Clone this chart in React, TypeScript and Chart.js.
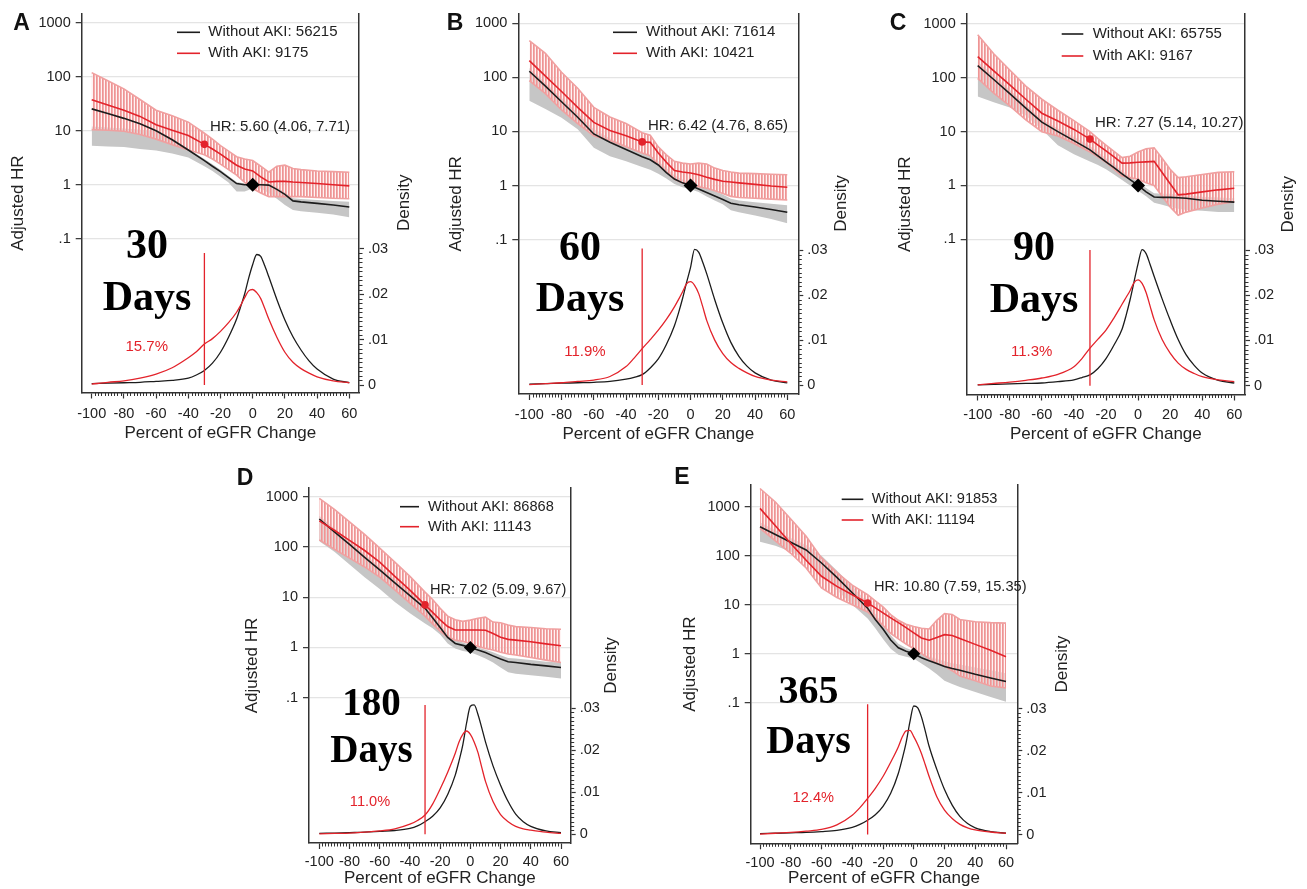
import React, { useEffect, useRef } from 'react';
import { Chart, registerables } from 'chart.js';

Chart.register(...registerables);

const SANS = '"Liberation Sans", Arial, Helvetica, sans-serif';
const SERIF = '"Liberation Serif", "Times New Roman", serif';

// ---------------- data ----------------
const X_HR = [-100, -90, -80, -70, -60, -50, -40, -30, -25, -20, -15, -10, -5, 0, 5, 10, 15, 20, 25, 30, 40, 50, 60];
const X_DEN = [-100, -90, -80, -70, -60, -50, -40, -35, -30, -25, -20, -15, -10, -7.5, -5, -2.5, 0, 2.5, 5, 7.5, 10, 15, 20, 25, 30, 35, 40, 50, 60];
const X_TICKS = [-100, -80, -60, -40, -20, 0, 20, 40, 60];
const HR_TICKS = [0.1, 1, 10, 100, 1000];
const DEN_TICKS = [0, 0.01, 0.02, 0.03];

const LETTERS = ['A', 'B', 'C', 'D', 'E'];
const DAYS = ['30', '60', '90', '180', '365'];
const N_NO = ['Without AKI: 56215', 'Without AKI: 71614', 'Without AKI: 65755', 'Without AKI: 86868', 'Without AKI: 91853'];
const N_AKI = ['With AKI: 9175', 'With AKI: 10421', 'With AKI: 9167', 'With AKI: 11143', 'With AKI: 11194'];
const HR_LABEL = ['HR: 5.60 (4.06, 7.71)', 'HR: 6.42 (4.76, 8.65)', 'HR: 7.27 (5.14, 10.27)', 'HR: 7.02 (5.09, 9.67)', 'HR: 10.80 (7.59, 15.35)'];
const HR_AT_REF = [5.6, 6.42, 7.27, 7.02, 10.8];
const REF_X = -30;
const PCT = ['15.7%', '11.9%', '11.3%', '11.0%', '12.4%'];
const VLINE_TOP = [0.029, 0.0304, 0.03, 0.0308, 0.031];

// Panel A (30 days)
const A_NO = [25.5, 21, 17, 13.5, 10, 6.8, 4.4, 2.8, 2.2, 1.75, 1.35, 1.05, 1.0, 1.0, 1.0, 0.98, 0.82, 0.66, 0.5, 0.48, 0.45, 0.42, 0.385];
const A_NO_LO = [5.3, 5.1, 5.0, 4.6, 4.3, 3.8, 3.2, 2.2, 1.8, 1.4, 1.1, 0.75, 0.75, 0.85, 0.85, 0.7, 0.55, 0.42, 0.34, 0.32, 0.3, 0.28, 0.25];
const A_NO_HI = [12, 11.5, 11, 10.5, 10, 7, 4.6, 3.0, 2.4, 1.9, 1.45, 1.12, 1.05, 1.05, 1.05, 1.05, 0.9, 0.72, 0.56, 0.54, 0.52, 0.5, 0.48];
const A_AKI = [37.5, 30, 24, 18.5, 13, 10.2, 8.2, 5.6, 4.6, 3.7, 2.9, 2.3, 1.95, 1.8, 1.4, 1.12, 1.15, 1.15, 1.12, 1.1, 1.05, 1.0, 0.95];
const A_AKI_LO = [10.5, 10.2, 9.8, 8.5, 7.0, 5.5, 4.4, 3.6, 3.0, 2.4, 1.9, 1.5, 1.1, 0.85, 0.7, 0.6, 0.6, 0.6, 0.6, 0.6, 0.58, 0.56, 0.55];
const A_AKI_HI = [120, 85, 60, 38, 24, 19, 14.5, 9, 7, 5.3, 4.2, 3.3, 3.0, 2.8, 2.2, 1.7, 2.2, 2.3, 2.0, 1.9, 1.8, 1.75, 1.7];
const A_DEN_NO = [0.0003, 0.0004, 0.0005, 0.0006, 0.0008, 0.001, 0.0015, 0.0022, 0.0032, 0.0048, 0.0072, 0.0105, 0.0145, 0.0172, 0.02, 0.0235, 0.0265, 0.0287, 0.0283, 0.0262, 0.0238, 0.0188, 0.0143, 0.0106, 0.0077, 0.0053, 0.0035, 0.0013, 0.0005];
const A_DEN_AKI = [0.0002, 0.0006, 0.0009, 0.0015, 0.0024, 0.0038, 0.006, 0.0073, 0.009, 0.0102, 0.0118, 0.0137, 0.016, 0.0175, 0.0192, 0.0207, 0.021, 0.0203, 0.019, 0.0168, 0.0145, 0.0105, 0.0072, 0.005, 0.0036, 0.0026, 0.0018, 0.0009, 0.0005];

// Panel B (60 days)
const B_NO = [130, 69, 35.5, 18.3, 9.0, 6.3, 4.65, 3.4, 3.0, 2.4, 1.74, 1.32, 1.12, 1.0, 0.86, 0.74, 0.64, 0.55, 0.47, 0.44, 0.4, 0.36, 0.32];
const B_NO_LO = [37, 26, 18, 11, 5.0, 3.5, 2.8, 2.2, 1.95, 1.66, 1.35, 1.07, 0.93, 0.85, 0.76, 0.63, 0.53, 0.45, 0.35, 0.32, 0.28, 0.24, 0.2];
const B_NO_HI = [150, 80, 42, 22, 11, 7.5, 5.5, 4.0, 3.5, 2.8, 2.1, 1.55, 1.3, 1.15, 1.0, 0.88, 0.78, 0.68, 0.57, 0.53, 0.49, 0.46, 0.43];
const B_AKI = [204, 106, 55, 28, 14.7, 10.4, 8.3, 6.42, 6.3, 4.0, 2.7, 1.9, 1.78, 1.7, 1.58, 1.42, 1.3, 1.2, 1.16, 1.12, 1.05, 0.98, 0.93];
const B_AKI_LO = [87, 50, 25, 14, 8.3, 6.8, 5.2, 4.0, 3.55, 2.4, 1.78, 1.32, 1.12, 1.05, 0.95, 0.89, 0.8, 0.71, 0.63, 0.6, 0.58, 0.56, 0.54];
const B_AKI_HI = [480, 280, 125, 63, 28, 18.6, 14, 9.5, 8.5, 5.2, 3.7, 2.8, 2.6, 2.5, 2.6, 2.5, 2.1, 1.9, 1.78, 1.7, 1.66, 1.62, 1.58];
const B_DEN_NO = [0.0002, 0.0003, 0.0004, 0.0005, 0.0006, 0.0008, 0.0013, 0.0017, 0.0023, 0.0038, 0.0058, 0.009, 0.0132, 0.016, 0.0192, 0.0228, 0.0262, 0.0302, 0.0296, 0.0274, 0.0248, 0.019, 0.0138, 0.0095, 0.0064, 0.0042, 0.0027, 0.0011, 0.0005];
const B_DEN_AKI = [0.0001, 0.0003, 0.0005, 0.0008, 0.0011, 0.0019, 0.0041, 0.006, 0.0081, 0.0101, 0.0122, 0.0146, 0.0174, 0.019, 0.0207, 0.0225, 0.023, 0.0222, 0.0204, 0.0175, 0.0144, 0.01, 0.007, 0.005, 0.0037, 0.0027, 0.0019, 0.0011, 0.0007];

// Panel C (90 days)
const C_NO = [169, 93, 51, 27.3, 15, 10, 6.8, 4.6, 3.55, 2.75, 2.15, 1.65, 1.28, 1.0, 0.76, 0.61, 0.6, 0.6, 0.59, 0.58, 0.53, 0.51, 0.49];
const C_NO_LO = [45, 35, 28, 20, 11, 5.6, 3.8, 2.8, 2.4, 2.0, 1.6, 1.26, 1.0, 0.8, 0.63, 0.48, 0.44, 0.4, 0.37, 0.35, 0.34, 0.32, 0.32];
const C_NO_HI = [200, 110, 60, 32, 17, 11.5, 8, 5.4, 4.2, 3.2, 2.5, 1.9, 1.45, 1.15, 0.9, 0.72, 0.7, 0.7, 0.68, 0.66, 0.62, 0.6, 0.58];
const C_AKI = [248, 135, 74, 40, 22, 15.8, 11, 7.27, 5.6, 4.4, 3.4, 2.6, 2.63, 2.7, 2.75, 2.8, 1.74, 1.08, 0.67, 0.69, 0.76, 0.83, 0.89];
const C_AKI_LO = [98, 52, 30, 16.5, 10, 8.3, 6.0, 4.2, 3.4, 2.7, 2.0, 1.5, 1.4, 1.3, 1.12, 1.0, 0.63, 0.4, 0.28, 0.32, 0.38, 0.45, 0.5];
const C_AKI_HI = [630, 280, 140, 70, 40, 25, 16, 10, 7.4, 5.6, 4.3, 3.3, 3.5, 4.2, 4.8, 5.0, 3.2, 2.0, 1.4, 1.45, 1.6, 1.75, 1.8];
const C_DEN_NO = [0.0002, 0.0003, 0.0004, 0.0005, 0.0006, 0.0009, 0.0013, 0.0018, 0.0024, 0.0038, 0.006, 0.009, 0.0125, 0.0155, 0.019, 0.023, 0.027, 0.0301, 0.0292, 0.0268, 0.0242, 0.0192, 0.0145, 0.0102, 0.0068, 0.0045, 0.0028, 0.0012, 0.0006];
const C_DEN_AKI = [0.0002, 0.0005, 0.0008, 0.0012, 0.0017, 0.0025, 0.0042, 0.006, 0.0083, 0.0103, 0.0123, 0.015, 0.018, 0.0195, 0.021, 0.0228, 0.0234, 0.0226, 0.0206, 0.0176, 0.0146, 0.0102, 0.0072, 0.005, 0.0036, 0.0027, 0.002, 0.0013, 0.0009];

// Panel D (180 days)
const D_NO = [360, 200, 112, 62, 35, 19.3, 10.8, 6.0, 3.9, 2.5, 1.58, 1.2, 1.1, 1.0, 0.89, 0.79, 0.68, 0.59, 0.52, 0.5, 0.46, 0.43, 0.4];
const D_NO_LO = [130, 80, 45, 25, 14.5, 8, 4.8, 3.0, 2.4, 1.8, 1.2, 0.95, 0.85, 0.8, 0.7, 0.6, 0.5, 0.4, 0.32, 0.3, 0.28, 0.26, 0.24];
const D_NO_HI = [420, 235, 130, 72, 41, 23, 13, 7, 4.6, 3.0, 1.9, 1.4, 1.25, 1.12, 1.0, 0.9, 0.8, 0.7, 0.62, 0.6, 0.56, 0.52, 0.5];
const D_AKI = [330, 215, 135, 85, 50, 26, 13.8, 7.02, 5.0, 3.55, 2.6, 2.22, 2.22, 2.22, 2.22, 2.2, 1.9, 1.6, 1.45, 1.4, 1.3, 1.18, 1.08];
const D_AKI_LO = [138, 90, 60, 40, 25, 14, 7.6, 4.2, 2.95, 2.1, 1.6, 1.4, 1.32, 1.2, 1.05, 0.95, 0.89, 0.8, 0.74, 0.71, 0.63, 0.56, 0.5];
const D_AKI_HI = [925, 560, 316, 178, 95, 50, 26, 12.6, 9, 6, 4.2, 3.55, 3.3, 3.5, 3.8, 4.0, 3.2, 3.1, 2.8, 2.6, 2.5, 2.35, 2.3];
const D_DEN_NO = [0.0002, 0.0003, 0.0004, 0.0005, 0.0007, 0.0009, 0.0014, 0.002, 0.003, 0.0043, 0.0063, 0.0095, 0.0141, 0.0175, 0.0213, 0.0265, 0.0305, 0.0308, 0.0286, 0.0254, 0.022, 0.0163, 0.0117, 0.0078, 0.0048, 0.003, 0.0019, 0.0008, 0.0004];
const D_DEN_AKI = [0.0001, 0.0002, 0.0003, 0.0005, 0.0008, 0.0013, 0.0024, 0.0033, 0.0046, 0.0072, 0.0108, 0.0148, 0.0193, 0.022, 0.0238, 0.0246, 0.0238, 0.022, 0.0195, 0.016, 0.0126, 0.0078, 0.0047, 0.003, 0.0019, 0.0013, 0.001, 0.0005, 0.0002];

// Panel E (365 days)
const E_NO = [390, 271, 188, 131, 71, 36, 17.5, 8.5, 5, 3.2, 1.9, 1.32, 1.12, 1.0, 0.83, 0.72, 0.63, 0.55, 0.5, 0.46, 0.38, 0.32, 0.27];
const E_NO_LO = [193, 160, 120, 85, 40, 20, 10, 5.2, 3.3, 2.0, 1.26, 0.95, 0.87, 0.8, 0.63, 0.5, 0.38, 0.28, 0.24, 0.21, 0.166, 0.13, 0.105];
const E_NO_HI = [480, 330, 230, 165, 100, 50, 24, 11, 6.5, 4.0, 2.4, 1.6, 1.3, 1.15, 1.0, 0.88, 0.78, 0.7, 0.64, 0.6, 0.52, 0.46, 0.4];
const E_AKI = [925, 410, 178, 81, 38, 23.6, 16, 10.8, 8.6, 6.8, 5.4, 4.3, 3.4, 2.67, 2.1, 1.88, 2.15, 2.45, 2.35, 2.05, 1.55, 1.17, 0.87];
const E_AKI_LO = [360, 200, 112, 56, 22, 14, 10, 7.1, 5.2, 3.8, 2.6, 2.0, 1.58, 1.26, 1.0, 0.8, 0.63, 0.56, 0.45, 0.35, 0.28, 0.22, 0.2];
const E_AKI_HI = [2350, 1250, 560, 250, 90, 45, 25, 16, 12, 9, 6.3, 4.8, 4.0, 3.6, 3.3, 3.2, 4.8, 6.6, 6.3, 5.0, 4.5, 4.3, 4.2];
const E_DEN_NO = [0.0002, 0.0003, 0.0004, 0.0005, 0.0007, 0.001, 0.0017, 0.0024, 0.0034, 0.0047, 0.0067, 0.0098, 0.0146, 0.018, 0.0218, 0.0268, 0.0306, 0.0302, 0.028, 0.0246, 0.021, 0.0155, 0.0107, 0.007, 0.0043, 0.0026, 0.0016, 0.0007, 0.0003];
const E_DEN_AKI = [0.0001, 0.0003, 0.0005, 0.0008, 0.0012, 0.0023, 0.0046, 0.0064, 0.0086, 0.011, 0.0138, 0.0172, 0.0209, 0.0232, 0.0247, 0.0248, 0.0233, 0.0215, 0.0193, 0.0166, 0.0138, 0.009, 0.0058, 0.0038, 0.0024, 0.0016, 0.0011, 0.0006, 0.0003];

// ---------------- layout (page pixel positions) ----------------
type Geo = {
  L: number; R: number; T: number; B: number;
  xm100: number; x60: number; hr1000: number; hr01: number; d0: number; d03: number;
  yTitleX: number; xTitleY: number; densX: number; xTickPad: number;
  letterX: number; letterY: number;
  legX1: number; legX2: number; legY1: number; legY2: number; legTX: number;
  hrX: number; hrY: number;
  daysX: number; daysB1: number; daysB2: number; daysSize: number;
  pctX: number; pctY: number; fs: number;
};

const GEO: Geo[] = [
  { L: 81.7, R: 359, T: 13, B: 392.5, xm100: 91.7, x60: 349.3, hr1000: 22.3, hr01: 238.3, d0: 385, d03: 248.3,
    yTitleX: 18.3, xTitleY: 433, densX: 404, xTickPad: 7, letterX: 21.5, letterY: 23.5,
    legX1: 177, legX2: 200, legY1: 32.3, legY2: 53.3, legTX: 208.3, hrX: 210, hrY: 127.3,
    daysX: 147, daysB1: 258.3, daysB2: 310, daysSize: 42, pctX: 146.7, pctY: 346.7, fs: 15 },
  { L: 518.3, R: 798.3, T: 13, B: 394, xm100: 529.3, x60: 787.3, hr1000: 22.7, hr01: 239.3, d0: 385, d03: 250,
    yTitleX: 456.7, xTitleY: 434, densX: 841.7, xTickPad: 6, letterX: 455, letterY: 23.5,
    legX1: 613, legX2: 637, legY1: 32.3, legY2: 53.3, legTX: 646, hrX: 648, hrY: 126,
    daysX: 580, daysB1: 260, daysB2: 311, daysSize: 42, pctX: 585, pctY: 351.7, fs: 15 },
  { L: 966.7, R: 1245, T: 14, B: 394.5, xm100: 977.7, x60: 1234.3, hr1000: 24, hr01: 239.3, d0: 385.7, d03: 250,
    yTitleX: 905, xTitleY: 434, densX: 1288, xTickPad: 6, letterX: 898, letterY: 24,
    legX1: 1061.7, legX2: 1083.3, legY1: 34, legY2: 56, legTX: 1092.7, hrX: 1095, hrY: 123.3,
    daysX: 1034, daysB1: 260, daysB2: 311.7, daysSize: 42, pctX: 1031.7, pctY: 351.7, fs: 15 },
  { L: 309, R: 570.7, T: 488, B: 843, xm100: 319.3, x60: 561, hr1000: 496.7, hr01: 697.7, d0: 834.3, d03: 708.3,
    yTitleX: 252, xTitleY: 878, densX: 611.7, xTickPad: 4, letterX: 245, letterY: 479,
    legX1: 400, legX2: 419, legY1: 506.7, legY2: 526.7, legTX: 428, hrX: 430, hrY: 590,
    daysX: 371.5, daysB1: 715, daysB2: 761.7, daysSize: 39, pctX: 370, pctY: 801.7, fs: 14.6 },
  { L: 750.7, R: 1017.3, T: 485, B: 843.3, xm100: 760, x60: 1006, hr1000: 506.7, hr01: 702.7, d0: 834.5, d03: 708.5,
    yTitleX: 690, xTitleY: 880, densX: 1062, xTickPad: 5, letterX: 682, letterY: 478,
    legX1: 841.7, legX2: 863.3, legY1: 499.3, legY2: 520, legTX: 871.7, hrX: 874, hrY: 586.7,
    daysX: 808.5, daysB1: 703.3, daysB2: 753.3, daysSize: 40, pctX: 813.3, pctY: 798.3, fs: 14.6 },
];

type PanelData = {
  no: number[]; noLo: number[]; noHi: number[];
  aki: number[]; akiLo: number[]; akiHi: number[];
  denNo: number[]; denAki: number[];
};

const DATA: PanelData[] = [
  { no: A_NO, noLo: A_NO_LO, noHi: A_NO_HI, aki: A_AKI, akiLo: A_AKI_LO, akiHi: A_AKI_HI, denNo: A_DEN_NO, denAki: A_DEN_AKI },
  { no: B_NO, noLo: B_NO_LO, noHi: B_NO_HI, aki: B_AKI, akiLo: B_AKI_LO, akiHi: B_AKI_HI, denNo: B_DEN_NO, denAki: B_DEN_AKI },
  { no: C_NO, noLo: C_NO_LO, noHi: C_NO_HI, aki: C_AKI, akiLo: C_AKI_LO, akiHi: C_AKI_HI, denNo: C_DEN_NO, denAki: C_DEN_AKI },
  { no: D_NO, noLo: D_NO_LO, noHi: D_NO_HI, aki: D_AKI, akiLo: D_AKI_LO, akiHi: D_AKI_HI, denNo: D_DEN_NO, denAki: D_DEN_AKI },
  { no: E_NO, noLo: E_NO_LO, noHi: E_NO_HI, aki: E_AKI, akiLo: E_AKI_LO, akiHi: E_AKI_HI, denNo: E_DEN_NO, denAki: E_DEN_AKI },
];

// ---------------- styles ----------------
const BLACK = '#1c1c1c';
const RED = '#e3232b';
const PINK = '#f0a0a0';
const GREY = '#c6c6c6';
const AXIS = '#333333';
const TEXT = '#222222';
const LH = 17 * 1.2;

type Box = { cl: number; ct: number; cw: number; ch: number };

function boxOf(g: Geo): Box {
  const cl = Math.max(0, Math.floor(g.L - 90));
  const cr = Math.min(1307, g.R + 70);
  const ct = Math.max(0, Math.floor(g.T - 20));
  const cb = Math.min(889, g.xTitleY + 12);
  return { cl, ct, cw: Math.round(cr - cl), ch: Math.round(cb - ct) };
}

function fmt(v: number): string {
  const s = String(+Number(v).toPrecision(6));
  return s.startsWith('0.') ? s.slice(1) : s;
}

function pts(xs: number[], ys: number[]) {
  return xs.map((x, i) => ({ x, y: ys[i] }));
}

function makeStripe(): CanvasPattern | string {
  const c = document.createElement('canvas');
  c.width = 3;
  c.height = 2;
  const g = c.getContext('2d');
  if (!g) return PINK;
  g.clearRect(0, 0, 3, 2);
  g.fillStyle = '#ee9494';
  g.fillRect(0, 0, 1, 2);
  g.fillStyle = '#f3adad';
  g.fillRect(1, 0, 1, 2);
  g.fillStyle = 'rgba(255,232,232,0.5)';
  g.fillRect(2, 0, 1, 2);
  return g.createPattern(c, 'repeat') || PINK;
}

function overlayPlugin(i: number, g: Geo, b: Box) {
  return {
    id: 'overlay' + i,
    afterDraw(chart: any) {
      const ctx: CanvasRenderingContext2D = chart.ctx;
      const a = chart.chartArea;
      const xs = chart.scales.x;
      const yd = chart.scales.yDen;
      const ox = b.cl;
      const oy = b.ct;
      ctx.save();
      // minor ticks
      ctx.strokeStyle = AXIS;
      ctx.lineWidth = 1;
      ctx.beginPath();
      for (let v = -100; v <= 60; v += 2) {
        if (v % 20 === 0) continue;
        const px = Math.round(xs.getPixelForValue(v)) + 0.5;
        ctx.moveTo(px, a.bottom);
        ctx.lineTo(px, a.bottom + 3.5);
      }
      for (let k = 1; k < 30; k++) {
        if (k % 10 === 0) continue;
        const py = Math.round(yd.getPixelForValue(k / 1000)) + 0.5;
        ctx.moveTo(a.right, py);
        ctx.lineTo(a.right + 3.5, py);
      }
      ctx.stroke();

      // panel letter
      ctx.fillStyle = '#111';
      ctx.font = `bold 23px ${SANS}`;
      ctx.textAlign = 'center';
      ctx.textBaseline = 'middle';
      ctx.fillText(LETTERS[i], g.letterX - ox, g.letterY - oy);

      // legend
      ctx.lineWidth = 1.6;
      ctx.strokeStyle = BLACK;
      ctx.beginPath();
      ctx.moveTo(g.legX1 - ox, g.legY1 - oy);
      ctx.lineTo(g.legX2 - ox, g.legY1 - oy);
      ctx.stroke();
      ctx.strokeStyle = RED;
      ctx.beginPath();
      ctx.moveTo(g.legX1 - ox, g.legY2 - oy);
      ctx.lineTo(g.legX2 - ox, g.legY2 - oy);
      ctx.stroke();
      ctx.fillStyle = TEXT;
      ctx.font = `${g.fs}px ${SANS}`;
      ctx.textAlign = 'left';
      ctx.textBaseline = 'middle';
      ctx.fillText(N_NO[i], g.legTX - ox, g.legY1 - oy);
      ctx.fillText(N_AKI[i], g.legTX - ox, g.legY2 - oy);

      // HR annotation
      ctx.fillText(HR_LABEL[i], g.hrX - ox, g.hrY - oy);

      // big day label
      ctx.fillStyle = '#000';
      ctx.font = `bold ${g.daysSize}px ${SERIF}`;
      ctx.textAlign = 'center';
      ctx.textBaseline = 'alphabetic';
      ctx.fillText(DAYS[i], g.daysX - ox, g.daysB1 - oy);
      ctx.fillText('Days', g.daysX - ox, g.daysB2 - oy);

      // percentage
      ctx.fillStyle = RED;
      ctx.font = `${g.fs}px ${SANS}`;
      ctx.textBaseline = 'middle';
      ctx.fillText(PCT[i], g.pctX - ox, g.pctY - oy);

      // density axis title
      ctx.fillStyle = TEXT;
      ctx.font = `17px ${SANS}`;
      ctx.translate(g.densX - ox, (g.T + g.B) / 2 - oy);
      ctx.rotate(-Math.PI / 2);
      ctx.textAlign = 'center';
      ctx.textBaseline = 'middle';
      ctx.fillText('Density', 0, 0);
      ctx.restore();
    },
  };
}

function makeChart(canvas: HTMLCanvasElement, i: number, stripe: CanvasPattern | string): Chart {
  const g = GEO[i];
  const d = DATA[i];
  const b = boxOf(g);
  const pxX = (g.x60 - g.xm100) / 160;
  const xMin = -100 - (g.xm100 - g.L) / pxX;
  const xMax = 60 + (g.R - g.x60) / pxX;
  const dec = (g.hr01 - g.hr1000) / 4;
  const hrMax = Math.pow(10, 3 + (g.hr1000 - g.T) / dec);
  const hrMin = Math.pow(10, -1 - (g.B - g.hr01) / dec);
  const pxD = (g.d0 - g.d03) / 0.03;
  const dMin = -(g.B - g.d0) / pxD;
  const dMax = (g.d0 - g.T) / pxD;

  const wl = g.L - b.cl;
  const wr = b.cl + b.cw - g.R;
  const padTop = g.T - b.ct;
  const hb = b.ct + b.ch - g.B;
  const yTitlePad = Math.max(0, g.yTitleX - b.cl - LH / 2);
  const xTitlePad = Math.max(0, b.ct + b.ch - g.xTitleY - LH / 2);

  const tickFont = { size: 14.5, family: SANS };
  const titleFont = { size: 17, family: SANS };
  const hrBase = { pointRadius: 0, tension: 0, yAxisID: 'yHR' };

  const config: any = {
    type: 'line',
    data: {
      datasets: [
        { ...hrBase, data: pts(X_HR, d.noHi), fill: '+1', backgroundColor: GREY, borderColor: 'rgba(0,0,0,0)', borderWidth: 0, order: 20 },
        { ...hrBase, data: pts(X_HR, d.noLo), fill: false, borderColor: 'rgba(0,0,0,0)', borderWidth: 0, order: 19 },
        { ...hrBase, data: pts(X_HR, d.akiHi), fill: '+1', backgroundColor: stripe, borderColor: PINK, borderWidth: 1.6, order: 18 },
        { ...hrBase, data: pts(X_HR, d.akiLo), fill: false, borderColor: PINK, borderWidth: 1.6, order: 17 },
        { ...hrBase, data: pts(X_HR, d.no), fill: false, borderColor: BLACK, borderWidth: 1.6, order: 16 },
        { ...hrBase, data: pts(X_HR, d.aki), fill: false, borderColor: RED, borderWidth: 1.6, order: 15 },
        { data: pts(X_DEN, d.denNo), yAxisID: 'yDen', fill: false, borderColor: BLACK, borderWidth: 1.3, pointRadius: 0, cubicInterpolationMode: 'monotone', order: 14 },
        { data: pts(X_DEN, d.denAki), yAxisID: 'yDen', fill: false, borderColor: RED, borderWidth: 1.3, pointRadius: 0, cubicInterpolationMode: 'monotone', order: 13 },
        { data: [{ x: REF_X, y: 0 }, { x: REF_X, y: VLINE_TOP[i] }], yAxisID: 'yDen', fill: false, borderColor: RED, borderWidth: 1.3, pointRadius: 0, order: 12 },
        { data: [{ x: REF_X, y: HR_AT_REF[i] }], yAxisID: 'yHR', showLine: false, pointRadius: 3.8, pointBackgroundColor: RED, pointBorderColor: RED, pointBorderWidth: 0, order: 11 },
        { data: [{ x: 0, y: 1 }], yAxisID: 'yHR', showLine: false, pointStyle: 'rectRot', pointRadius: i < 3 ? 7 : 6.5, pointBackgroundColor: '#000', pointBorderColor: '#000', pointBorderWidth: 0, order: 10 },
      ],
    },
    options: {
      responsive: false,
      maintainAspectRatio: false,
      animation: false,
      devicePixelRatio: 1,
      events: [],
      layout: { autoPadding: false, padding: { top: padTop, left: 0, right: 0, bottom: 0 } },
      plugins: { legend: { display: false }, tooltip: { enabled: false }, title: { display: false } },
      scales: {
        x: {
          type: 'linear', position: 'bottom', min: xMin, max: xMax, bounds: 'data',
          afterBuildTicks: (s: any) => { s.ticks = X_TICKS.map((v) => ({ value: v })); },
          afterFit: (s: any) => { s.height = hb; },
          ticks: { autoSkip: false, maxRotation: 0, minRotation: 0, padding: g.xTickPad, color: TEXT, font: tickFont, callback: (v: number) => String(v) },
          grid: { drawOnChartArea: false, drawTicks: true, tickLength: 6, tickColor: AXIS, tickWidth: 1.2 },
          border: { display: true, color: AXIS, width: 1.5 },
          title: { display: true, text: 'Percent of eGFR Change', color: TEXT, font: titleFont, padding: { top: 0, bottom: xTitlePad } },
        },
        yHR: {
          type: 'logarithmic', position: 'left', min: hrMin, max: hrMax,
          afterBuildTicks: (s: any) => { s.ticks = HR_TICKS.map((v) => ({ value: v })); },
          afterFit: (s: any) => { s.width = wl; },
          ticks: { autoSkip: false, padding: 5, color: TEXT, font: tickFont, callback: (v: number) => fmt(v) },
          grid: { drawOnChartArea: true, color: '#e4e4e4', lineWidth: 1.3, drawTicks: true, tickLength: 6, tickColor: AXIS, tickWidth: 1.2 },
          border: { display: true, color: AXIS, width: 1.5 },
          title: { display: true, text: 'Adjusted HR', color: TEXT, font: titleFont, padding: { top: yTitlePad, bottom: 0 } },
        },
        yDen: {
          type: 'linear', position: 'right', min: dMin, max: dMax, bounds: 'data',
          afterBuildTicks: (s: any) => { s.ticks = DEN_TICKS.map((v) => ({ value: v })); },
          afterFit: (s: any) => { s.width = wr; },
          ticks: { autoSkip: false, padding: 4, color: TEXT, font: tickFont, callback: (v: number) => fmt(v) },
          grid: { drawOnChartArea: false, drawTicks: true, tickLength: 5, tickColor: AXIS, tickWidth: 1.2 },
          border: { display: true, color: AXIS, width: 1.5 },
        },
      },
    },
    plugins: [overlayPlugin(i, g, b)],
  };
  return new Chart(canvas, config);
}

export default function App() {
  const refs = useRef<(HTMLCanvasElement | null)[]>([]);
  const boxes = GEO.map(boxOf);

  useEffect(() => {
    Chart.defaults.font.family = SANS;
    const stripe = makeStripe();
    const charts: Chart[] = [];
    refs.current.forEach((c, i) => {
      if (c) charts.push(makeChart(c, i, stripe));
    });
    return () => charts.forEach((ch) => ch.destroy());
  }, []);

  return (
    <div style={{ position: 'absolute', left: 0, top: 0, width: 1307, height: 889, background: '#ffffff', overflow: 'hidden' }}>
      {boxes.map((b, i) => (
        <canvas
          key={i}
          ref={(el) => { refs.current[i] = el; }}
          width={b.cw}
          height={b.ch}
          style={{ position: 'absolute', left: b.cl, top: b.ct, width: b.cw, height: b.ch }}
        />
      ))}
    </div>
  );
}
